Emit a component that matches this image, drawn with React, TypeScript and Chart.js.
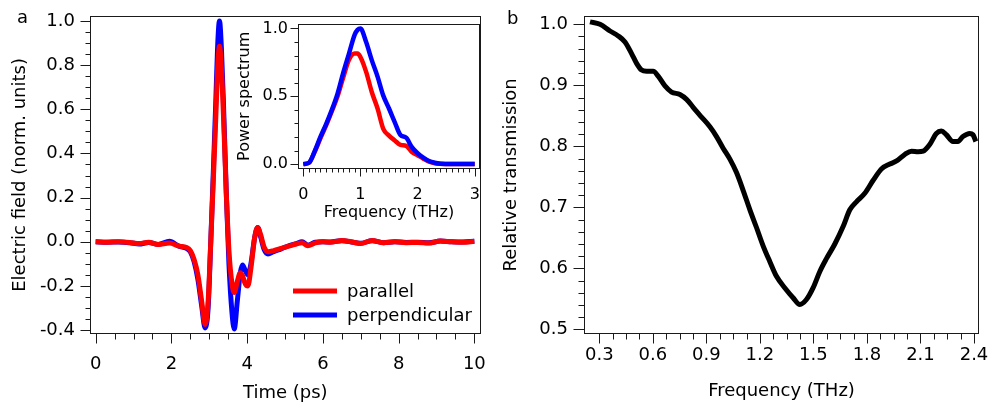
import React, { useEffect, useRef } from "react";
import { Chart, registerables } from "chart.js";

Chart.register(...registerables);

// ---------- Panel a: time-domain field ----------
const timePs = [
  0, 0.3, 0.6, 0.9, 1.15, 1.4, 1.65, 1.95, 2.2, 2.4, 2.5, 2.6, 2.7, 2.8, 2.89, 2.97,
  3.04, 3.1, 3.17, 3.22, 3.27, 3.32, 3.38, 3.45, 3.52, 3.6, 3.66, 3.74, 3.82, 3.88,
  3.95, 4.02, 4.1, 4.2, 4.28, 4.36, 4.45, 4.55, 4.7, 4.9, 5.1, 5.3, 5.45, 5.6, 5.8,
  6.0, 6.2, 6.5, 6.8, 7.0, 7.3, 7.6, 7.9, 8.2, 8.5, 8.8, 9.1, 9.4, 9.7, 10.0,
];
const parallelField = [
  0, -0.002, 0, -0.003, -0.008, -0.002, -0.012, -0.006, -0.02, -0.026, -0.04, -0.08,
  -0.15, -0.27, -0.375, -0.27, 0.0, 0.25, 0.55, 0.78, 0.885, 0.79, 0.55, 0.22, -0.04,
  -0.19, -0.23, -0.18, -0.14, -0.155, -0.19, -0.2, -0.12, 0.02, 0.065, 0.03, -0.025,
  -0.045, -0.04, -0.03, -0.02, -0.01, -0.005, -0.018, -0.005, 0.0, -0.002, 0.006,
  -0.002, -0.008, 0.006, -0.004, 0.0, -0.004, -0.003, -0.006, 0.003, 0.0, -0.002, 0.002,
];
const perpendicularField = [
  0, -0.002, -0.001, -0.004, -0.01, -0.003, -0.012, 0.002, -0.02, -0.03, -0.045, -0.09,
  -0.17, -0.29, -0.39, -0.3, 0.0, 0.28, 0.62, 0.88, 1.0, 0.88, 0.6, 0.22, -0.1, -0.32,
  -0.395, -0.27, -0.14, -0.105, -0.13, -0.15, -0.1, 0.02, 0.065, 0.02, -0.035, -0.055,
  -0.045, -0.032, -0.018, -0.008, 0.0, -0.015, -0.002, 0.0, -0.001, 0.005, -0.002,
  -0.007, 0.005, -0.004, 0.0, -0.003, -0.002, -0.005, 0.003, 0.0, -0.001, 0.002,
];
const timeTicks = [0, 2, 4, 6, 8, 10];
const fieldTicks = [-0.4, -0.2, 0, 0.2, 0.4, 0.6, 0.8, 1.0];

// ---------- Inset: power spectrum ----------
const specFreq = [
  0, 0.1, 0.2, 0.3, 0.4, 0.5, 0.6, 0.7, 0.8, 0.9, 0.95, 1.0, 1.1, 1.2, 1.3, 1.4, 1.5,
  1.6, 1.7, 1.8, 1.9, 2.0, 2.1, 2.2, 2.3, 2.4, 2.6, 2.8, 3.0,
];
const perpendicularPower = [
  0, 0.01, 0.095, 0.2, 0.295, 0.4, 0.52, 0.675, 0.815, 0.955, 0.99, 1.0, 0.9, 0.765,
  0.645, 0.505, 0.41, 0.31, 0.215, 0.195, 0.125, 0.08, 0.048, 0.023, 0.01, 0.003, 0, 0, 0,
];
const parallelPower = [
  0, 0.01, 0.09, 0.19, 0.285, 0.39, 0.5, 0.64, 0.77, 0.815, 0.815, 0.79, 0.68, 0.53,
  0.41, 0.26, 0.21, 0.175, 0.142, 0.135, 0.09, 0.065, 0.04, 0.018, 0.007, 0.002, 0, 0, 0,
];
const specFreqTicks = [0, 1, 2, 3];
const powerTicks = [0, 0.5, 1.0];

// ---------- Panel b: relative transmission ----------
const transFreq = [
  0.248, 0.304, 0.36, 0.406, 0.444, 0.481, 0.509, 0.537, 0.565, 0.602, 0.63, 0.668,
  0.705, 0.752, 0.789, 0.826, 0.873, 0.92, 0.957, 0.994, 1.032, 1.069, 1.106, 1.144,
  1.181, 1.218, 1.256, 1.293, 1.34, 1.386, 1.424, 1.461, 1.498, 1.536, 1.573, 1.62,
  1.667, 1.704, 1.741, 1.788, 1.834, 1.881, 1.928, 1.966, 2.013, 2.05, 2.087, 2.115,
  2.152, 2.189, 2.217, 2.245, 2.282, 2.31, 2.338, 2.376, 2.394, 2.41,
];
const transmission = [
  1.004, 1.0, 0.989, 0.981, 0.971, 0.952, 0.936, 0.925, 0.923, 0.923, 0.915, 0.899,
  0.889, 0.885, 0.877, 0.864, 0.848, 0.832, 0.816, 0.797, 0.779, 0.757, 0.728, 0.696,
  0.667, 0.637, 0.611, 0.587, 0.568, 0.552, 0.541, 0.549, 0.568, 0.595, 0.616, 0.64,
  0.669, 0.696, 0.709, 0.723, 0.744, 0.763, 0.771, 0.776, 0.787, 0.792, 0.791, 0.792,
  0.803, 0.821, 0.825, 0.819, 0.808, 0.808, 0.816, 0.821, 0.819, 0.808,
];
const transFreqTicks = [0.3, 0.6, 0.9, 1.2, 1.5, 1.8, 2.1, 2.4];
const transTicks = [0.5, 0.6, 0.7, 0.8, 0.9, 1.0];

const FONT = "'DejaVu Sans', sans-serif";
const RED = "#ff0000";
const BLUE = "#0000ff";

function minorValues(majors: number[], step: number): number[] {
  const out: number[] = [];
  const lo = majors[0];
  const hi = majors[majors.length - 1];
  const n = Math.round((hi - lo) / step);
  for (let i = 0; i <= n; i++) {
    const v = lo + i * step;
    if (!majors.some((m) => Math.abs(m - v) < step / 10)) out.push(v);
  }
  return out;
}

const frameTicksPlugin = {
  id: "frameTicks",
  afterDraw(chart: any, _args: any, opts: any) {
    const { ctx, chartArea: a, scales } = chart;
    ctx.save();
    ctx.strokeStyle = "#1a1a1a";
    ctx.lineWidth = 1;
    const L = Math.round(a.left) + 0.5;
    const R = Math.round(a.right) - 0.5;
    const T = Math.round(a.top) + 0.5;
    const B = Math.round(a.bottom) - 0.5;
    ctx.strokeRect(L, T, R - L, B - T);
    const xs = scales.x;
    const ys = scales.y;
    const tickX = (v: number, len: number) => {
      const p = Math.round(xs.getPixelForValue(v)) + 0.5;
      ctx.beginPath();
      ctx.moveTo(p, B);
      ctx.lineTo(p, B + len);
      ctx.stroke();
    };
    const tickY = (v: number, len: number) => {
      const p = Math.round(ys.getPixelForValue(v)) + 0.5;
      ctx.beginPath();
      ctx.moveTo(L, p);
      ctx.lineTo(L - len, p);
      ctx.stroke();
    };
    opts.xMajor.forEach((v: number) => tickX(v, opts.xMajorLen));
    minorValues(opts.xMajor, opts.xMinorStep).forEach((v) => tickX(v, opts.xMinorLen));
    opts.yMajor.forEach((v: number) => tickY(v, opts.yMajorLen));
    minorValues(opts.yMajor, opts.yMinorStep).forEach((v) => tickY(v, opts.yMinorLen));
    ctx.restore();
  },
};

const insideLegendPlugin = {
  id: "insideLegend",
  afterDraw(chart: any, _args: any, opts: any) {
    if (!opts || !opts.show) return;
    const { ctx } = chart;
    ctx.save();
    ctx.font = `${opts.fontSize}px ${FONT}`;
    ctx.textBaseline = "middle";
    ctx.fillStyle = "#000";
    chart.data.datasets.forEach((ds: any, i: number) => {
      const y = opts.y + i * opts.rowH;
      ctx.strokeStyle = ds.borderColor;
      ctx.lineWidth = ds.borderWidth;
      ctx.beginPath();
      ctx.moveTo(opts.x, y);
      ctx.lineTo(opts.x + opts.lineLen, y);
      ctx.stroke();
      ctx.fillText(ds.label, opts.x + opts.lineLen + opts.gap, y + 1);
    });
    ctx.restore();
  },
};

function makeAxis(o: {
  ticks: number[];
  min: number;
  max: number;
  fmt: (v: number) => string;
  fontSize: number;
  tickLen: number;
  pad: number;
  size: number;
  title: string;
  titlePad: any;
}) {
  return {
    type: "linear",
    min: o.min,
    max: o.max,
    afterBuildTicks: (s: any) => {
      s.ticks = o.ticks.map((v) => ({ value: v }));
    },
    afterFit: (s: any) => {
      if (s.isHorizontal()) s.height = o.size;
      else s.width = o.size;
    },
    grid: {
      display: true,
      drawOnChartArea: false,
      drawTicks: true,
      tickLength: o.tickLen,
      tickColor: "rgba(0,0,0,0)",
    },
    border: { display: false },
    ticks: {
      autoSkip: false,
      maxRotation: 0,
      minRotation: 0,
      padding: o.pad,
      color: "#000",
      font: { family: FONT, size: o.fontSize },
      callback: (v: any) => o.fmt(Number(v)),
    },
    title: {
      display: true,
      text: o.title,
      color: "#000",
      font: { family: FONT, size: o.fontSize },
      padding: o.titlePad,
    },
  };
}

const pts = (xs: number[], ys: number[]) => xs.map((x, i) => ({ x, y: ys[i] }));

function lineDs(label: string, xs: number[], ys: number[], color: string, width: number) {
  return {
    label,
    data: pts(xs, ys),
    borderColor: color,
    backgroundColor: color,
    borderWidth: width,
    pointRadius: 0,
    fill: false,
    cubicInterpolationMode: "monotone",
    borderJoinStyle: "round",
  };
}

function mainConfig(): any {
  return {
    type: "line",
    data: {
      datasets: [
        lineDs("parallel", timePs, parallelField, RED, 5),
        lineDs("perpendicular", timePs, perpendicularField, BLUE, 5),
      ],
    },
    options: {
      responsive: false,
      animation: false,
      devicePixelRatio: 1,
      layout: { padding: { left: 0, top: 8, right: 12, bottom: 0 } },
      scales: {
        x: makeAxis({
          ticks: timeTicks, min: -0.149, max: 10.165, fmt: (v) => String(v),
          fontSize: 18, tickLen: 10, pad: 10, size: 70, title: "Time (ps)",
          titlePad: { top: 0, bottom: 0 },
        }),
        y: makeAxis({
          ticks: fieldTicks, min: -0.4177, max: 1.0234, fmt: (v) => v.toFixed(1),
          fontSize: 18, tickLen: 10, pad: 5, size: 90, title: "Electric field (norm. units)",
          titlePad: { top: 10, bottom: 0 },
        }),
      },
      plugins: {
        legend: { display: false },
        tooltip: { enabled: false },
        frameTicks: {
          xMajor: timeTicks, xMinorStep: 0.5, xMajorLen: 10, xMinorLen: 6,
          yMajor: fieldTicks, yMinorStep: 0.05, yMajorLen: 10, yMinorLen: 5,
        },
        insideLegend: { show: true, x: 293, y: 291, lineLen: 44, gap: 10, rowH: 24, fontSize: 18 },
      },
    },
    plugins: [frameTicksPlugin, insideLegendPlugin],
  };
}

function insetConfig(): any {
  return {
    type: "line",
    data: {
      datasets: [
        lineDs("perpendicular", specFreq, perpendicularPower, BLUE, 4.5),
        lineDs("parallel", specFreq, parallelPower, RED, 4.5),
      ],
    },
    options: {
      responsive: false,
      animation: false,
      devicePixelRatio: 1,
      layout: { padding: { left: 0, top: 9, right: 6, bottom: 0 } },
      scales: {
        x: makeAxis({
          ticks: specFreqTicks, min: -0.092, max: 3.092, fmt: (v) => String(v),
          fontSize: 16, tickLen: 8, pad: 8, size: 59, title: "Frequency (THz)",
          titlePad: { top: 0, bottom: 6 },
        }),
        y: makeAxis({
          ticks: powerTicks, min: -0.036, max: 1.036, fmt: (v) => v.toFixed(1),
          fontSize: 16, tickLen: 8, pad: 2, size: 66, title: "Power spectrum",
          titlePad: { top: 3, bottom: 0 },
        }),
      },
      plugins: {
        legend: { display: false },
        tooltip: { enabled: false },
        frameTicks: {
          xMajor: specFreqTicks, xMinorStep: 0.1, xMajorLen: 8, xMinorLen: 4,
          yMajor: powerTicks, yMinorStep: 0.1, yMajorLen: 8, yMinorLen: 4,
        },
      },
    },
    plugins: [frameTicksPlugin],
  };
}

function transConfig(): any {
  return {
    type: "line",
    data: {
      datasets: [lineDs("transmission", transFreq, transmission, "#000000", 5)],
    },
    options: {
      responsive: false,
      animation: false,
      devicePixelRatio: 1,
      layout: { padding: { left: 0, top: 8, right: 13, bottom: 0 } },
      scales: {
        x: makeAxis({
          ticks: transFreqTicks, min: 0.2143, max: 2.428, fmt: (v) => v.toFixed(1),
          fontSize: 18, tickLen: 10, pad: 1, size: 70, title: "Frequency (THz)",
          titlePad: { top: 0, bottom: 1.5 },
        }),
        y: makeAxis({
          ticks: transTicks, min: 0.4925, max: 1.0139, fmt: (v) => v.toFixed(1),
          fontSize: 18, tickLen: 11, pad: 5, size: 88, title: "Relative transmission",
          titlePad: { top: 5, bottom: 0 },
        }),
      },
      plugins: {
        legend: { display: false },
        tooltip: { enabled: false },
        frameTicks: {
          xMajor: transFreqTicks, xMinorStep: 0.075, xMajorLen: 10, xMinorLen: 6,
          yMajor: transTicks, yMinorStep: 0.02, yMajorLen: 11, yMinorLen: 6,
        },
      },
    },
    plugins: [frameTicksPlugin],
  };
}

function ChartBox(props: { left: number; top: number; width: number; height: number; make: () => any }) {
  const ref = useRef<HTMLCanvasElement | null>(null);
  useEffect(() => {
    if (!ref.current) return;
    const chart = new Chart(ref.current, props.make());
    return () => chart.destroy();
  }, []);
  return (
    <div style={{ position: "absolute", left: props.left, top: props.top, width: props.width, height: props.height }}>
      <canvas ref={ref} width={props.width} height={props.height} style={{ width: props.width, height: props.height, display: "block" }} />
    </div>
  );
}

const panelLabel: React.CSSProperties = {
  position: "absolute",
  fontFamily: FONT,
  fontSize: 18,
  lineHeight: "18px",
  color: "#000",
};

export default function App() {
  return (
    <div style={{ position: "absolute", left: 0, top: 0, width: 992, height: 404, background: "#fff", overflow: "hidden" }}>
      <ChartBox left={0} top={0} width={496} height={404} make={mainConfig} />
      <ChartBox left={232} top={12} width={256} height={216} make={insetConfig} />
      <ChartBox left={496} top={0} width={496} height={404} make={transConfig} />
      <div style={{ ...panelLabel, left: 17, top: 8 }}>a</div>
      <div style={{ ...panelLabel, left: 507, top: 9 }}>b</div>
    </div>
  );
}
